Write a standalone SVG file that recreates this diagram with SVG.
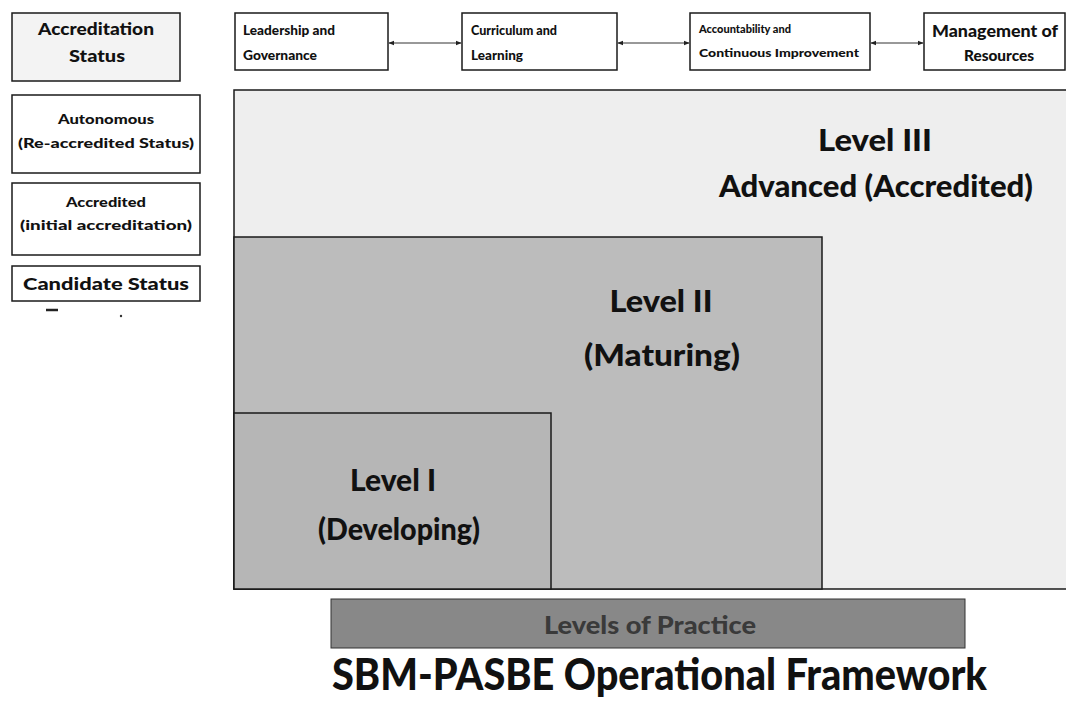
<svg xmlns="http://www.w3.org/2000/svg" width="1066" height="706" viewBox="0 0 1066 706">
  <defs>
    <style>
      .box { fill: #ffffff; stroke: #1a1a1a; stroke-width: 1.5; }
      .t { font-family: Lato, "Liberation Sans", sans-serif; font-weight: 900; fill: #111111; }
      .big { font-family: Lato, "Liberation Sans", sans-serif; font-weight: 900; fill: #111111; font-size: 31px; text-anchor: middle; }
      .conn { stroke: #333333; stroke-width: 1; fill: none; marker-start: url(#ah); marker-end: url(#ah); }
    </style>
    <marker id="ah" viewBox="0 0 10 10" refX="9" refY="5" markerWidth="6" markerHeight="6" orient="auto-start-reverse" markerUnits="userSpaceOnUse">
      <path d="M0,1 L10,5 L0,9 z" fill="#222222"/>
    </marker>
  </defs>
  <rect width="1066" height="706" fill="#ffffff"/>

  <!-- Left column: accreditation status -->
  <g id="accreditation-status">
    <rect class="box" x="12" y="13" width="168" height="68" style="fill:#f3f3f3"/>
    <text class="t" x="96" y="35" font-size="16" text-anchor="middle" textLength="116" lengthAdjust="spacingAndGlyphs">Accreditation</text>
    <text class="t" x="97" y="62" font-size="16" text-anchor="middle" textLength="56" lengthAdjust="spacingAndGlyphs">Status</text>
  </g>
  <g id="autonomous">
    <rect class="box" x="12" y="95" width="188" height="78"/>
    <text class="t" x="106" y="124" font-size="13" text-anchor="middle" textLength="96" lengthAdjust="spacingAndGlyphs">Autonomous</text>
    <text class="t" x="106" y="148" font-size="13" text-anchor="middle" textLength="176" lengthAdjust="spacingAndGlyphs">(Re-accredited  Status)</text>
  </g>
  <g id="accredited">
    <rect class="box" x="12" y="183" width="188" height="72"/>
    <text class="t" x="106" y="207" font-size="13" text-anchor="middle" textLength="80" lengthAdjust="spacingAndGlyphs">Accredited</text>
    <text class="t" x="106" y="230" font-size="13" text-anchor="middle" textLength="172" lengthAdjust="spacingAndGlyphs">(initial accreditation)</text>
  </g>
  <g id="candidate">
    <rect class="box" x="12" y="266" width="188" height="35"/>
    <text class="t" x="106" y="290" font-size="17" text-anchor="middle" textLength="166" lengthAdjust="spacingAndGlyphs">Candidate Status</text>
  </g>
  <g id="marks">
    <path d="M46,310 L58,310" stroke="#222" stroke-width="2.5"/>
    <circle cx="121" cy="316" r="1.2" fill="#333"/>
  </g>

  <!-- Top row: areas -->
  <g id="leadership">
    <rect class="box" x="235" y="13" width="153" height="57"/>
    <text class="t" x="243" y="35" font-size="14" textLength="92" lengthAdjust="spacingAndGlyphs">Leadership and</text>
    <text class="t" x="243" y="60" font-size="14" textLength="74" lengthAdjust="spacingAndGlyphs">Governance</text>
  </g>
  <g id="curriculum">
    <rect class="box" x="462" y="13" width="155" height="57"/>
    <text class="t" x="471" y="35" font-size="14" textLength="86" lengthAdjust="spacingAndGlyphs">Curriculum and</text>
    <text class="t" x="471" y="60" font-size="14" textLength="52" lengthAdjust="spacingAndGlyphs">Learning</text>
  </g>
  <g id="accountability">
    <rect class="box" x="690" y="13" width="180" height="57"/>
    <text class="t" x="699" y="33" font-size="12" textLength="92" lengthAdjust="spacingAndGlyphs">Accountability and</text>
    <text class="t" x="699" y="57" font-size="12" textLength="160" lengthAdjust="spacingAndGlyphs">Continuous Improvement</text>
  </g>
  <g id="management">
    <rect class="box" x="924" y="13" width="141" height="57"/>
    <text class="t" x="995" y="37" font-size="16" text-anchor="middle" textLength="126" lengthAdjust="spacingAndGlyphs">Management of</text>
    <text class="t" x="999" y="61" font-size="15" text-anchor="middle" textLength="70" lengthAdjust="spacingAndGlyphs">Resources</text>
  </g>

  <!-- Connectors -->
  <g id="connectors">
    <line class="conn" x1="389" y1="43" x2="461" y2="43"/>
    <line class="conn" x1="618" y1="43" x2="689" y2="43"/>
    <line class="conn" x1="871" y1="43" x2="923" y2="43"/>
  </g>

  <!-- Levels of practice -->
  <g id="level3">
    <rect x="234" y="90" width="836" height="499" fill="#eeeeee" stroke="#1a1a1a" stroke-width="1.5"/>
    <text class="big" x="875" y="151" textLength="114" lengthAdjust="spacingAndGlyphs">Level III</text>
    <text class="big" x="876" y="197" textLength="314" lengthAdjust="spacingAndGlyphs">Advanced (Accredited)</text>
  </g>
  <g id="level2">
    <rect x="234" y="237" width="588" height="352" fill="#bcbcbc" stroke="#1a1a1a" stroke-width="1.5"/>
    <text class="big" x="661" y="312" textLength="103" lengthAdjust="spacingAndGlyphs">Level II</text>
    <text class="big" x="662" y="366" textLength="156" lengthAdjust="spacingAndGlyphs">(Maturing)</text>
  </g>
  <g id="level1">
    <rect x="234" y="413" width="317" height="176" fill="#b6b6b6" stroke="#1a1a1a" stroke-width="1.5"/>
    <text class="big" x="393" y="491" textLength="86" lengthAdjust="spacingAndGlyphs">Level I</text>
    <text class="big" x="399" y="540" textLength="162" lengthAdjust="spacingAndGlyphs">(Developing)</text>
  </g>

  <g id="levels-of-practice">
    <rect x="331" y="599" width="634" height="49" fill="#888888" stroke="#333333" stroke-width="1"/>
    <text class="t" x="650" y="634" font-size="24" text-anchor="middle" style="fill:#3a3a3a" textLength="212" lengthAdjust="spacingAndGlyphs">Levels of Practice</text>
  </g>

  <g id="title">
    <text class="t" x="332" y="690" font-size="43" textLength="655" lengthAdjust="spacingAndGlyphs">SBM-PASBE Operational Framework</text>
  </g>
</svg>
